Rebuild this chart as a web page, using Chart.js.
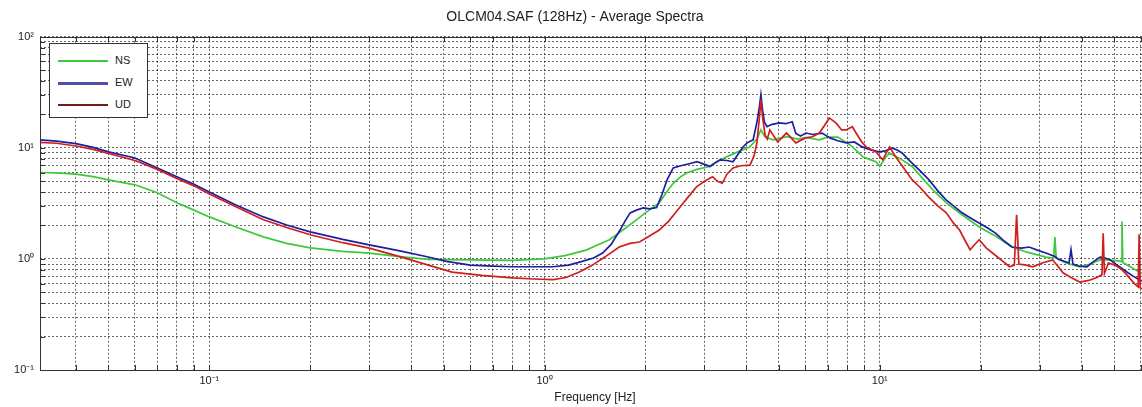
<!DOCTYPE html>
<html>
<head>
<meta charset="utf-8">
<script src="https://cdn.jsdelivr.net/npm/chart.js@4"></script>
<style>
  html, body { margin: 0; padding: 0; background: #fff; overflow: hidden; }
  #wrap { position: relative; width: 1150px; height: 407px; }
  #legend {
    position: absolute; left: 49px; top: 43px; width: 97px; height: 73px;
    border: 1px solid #333; background: #fff;
    font: 11px "Liberation Sans", Arial, sans-serif; color: #222;
  }
  .item { position: absolute; left: 8px; height: 12px; }
  .item span.line { position: absolute; left: 0; width: 50px; }
  .item span.txt { position: absolute; left: 57px; top: -1px; }
</style>
</head>
<body>
<div id="wrap">
  <canvas id="spectra" width="1150" height="407"></canvas>
  <div id="legend"></div>
</div>
<script>
// Average spectra per component (frequency in Hz, amplitude)
const freqNS = [0.03125,0.035,0.04,0.045,0.05,0.06,0.07,0.08,0.09,0.1,0.12,0.145,0.17,0.2,0.25,0.3,0.37,0.45,0.6,0.8,1.0,1.15,1.33,1.45,1.56,1.66,1.76,1.88,2.0,2.1,2.2,2.3,2.42,2.55,2.66,2.85,3.1,3.3,3.49,3.8,4.1,4.3,4.42,4.55,4.8,5.3,5.7,6.0,6.6,7.0,7.5,7.94,8.3,8.9,9.4,9.75,10.0,10.4,10.7,11.5,12.5,13.5,14.5,15.8,17.6,19.8,22.2,24.8,27.5,31.3,33.0,33.3,33.6,36,39.5,42.5,45.4,48.5,52.5,52.8,53.1,57,60,64];
const valNS = [6.0,5.95,5.8,5.5,5.15,4.65,3.94,3.2,2.75,2.39,1.94,1.58,1.38,1.26,1.17,1.13,1.05,0.99,0.98,0.97,1.0,1.07,1.2,1.35,1.49,1.7,1.94,2.25,2.6,2.9,3.2,3.9,4.8,5.5,5.96,6.4,6.8,7.6,8.3,9.3,10.2,12,14.5,12.5,11.8,12.6,12.0,12.4,11.8,12.5,12.5,11.2,10.2,8.3,7.8,7.5,6.8,8.2,9.0,8.0,6.8,5.2,4.1,3.2,2.5,1.94,1.6,1.28,1.15,1.04,1.02,1.57,1.02,0.92,0.85,0.9,0.98,0.98,0.95,2.17,0.93,0.82,0.75,0.72];

const freqEW = [0.03125,0.035,0.04,0.045,0.05,0.06,0.07,0.08,0.09,0.1,0.12,0.145,0.17,0.2,0.25,0.3,0.37,0.45,0.51,0.6,0.7,0.8,0.93,1.06,1.18,1.28,1.4,1.49,1.58,1.68,1.74,1.80,1.88,1.97,2.06,2.16,2.24,2.32,2.42,2.55,2.7,2.85,3.0,3.12,3.24,3.34,3.5,3.65,3.8,3.92,4.02,4.19,4.3,4.38,4.42,4.47,4.53,4.61,4.75,5.01,5.25,5.48,5.62,5.8,6.03,6.3,6.73,7.1,7.5,7.94,8.4,8.86,9.4,9.95,10.4,10.9,11.3,11.66,12.1,12.49,13.2,14.03,14.9,15.77,16.6,17.6,18.6,19.78,21,22.2,23.5,24.8,26.5,27.9,29.5,31.3,33.3,34,35.5,36.7,37.2,37.7,39.5,41.5,43.5,45.4,47,48.7,50.5,52.8,55,57,59.4,62,64];
const valEW = [11.8,11.5,10.9,10.1,9.2,8.1,6.6,5.5,4.7,4.0,3.06,2.39,2.02,1.75,1.5,1.34,1.18,1.04,0.95,0.88,0.86,0.85,0.85,0.85,0.88,0.94,1.02,1.13,1.35,1.82,2.2,2.6,2.75,2.88,2.82,2.9,3.8,5.15,6.6,6.9,7.2,7.5,7.1,6.8,7.4,7.8,7.7,7.5,9.0,10.3,11.1,11.8,17,24,30,22,17,15.5,16.2,16.8,16.5,17.2,13.5,12.8,13.6,13.2,13.6,12.3,11.6,11.1,11.3,10.2,9.6,9.2,9.4,10.0,9.5,9.0,8.0,7.3,6.2,5.15,4.1,3.4,3.0,2.6,2.35,2.11,1.9,1.7,1.45,1.28,1.25,1.28,1.2,1.13,1.05,1.0,0.95,0.92,1.21,0.9,0.86,0.85,0.95,1.04,1.02,0.98,0.9,0.82,0.75,0.7,0.65,0.62,0.6];

const freqUD = [0.03125,0.035,0.04,0.045,0.05,0.06,0.07,0.08,0.09,0.1,0.12,0.145,0.17,0.2,0.25,0.3,0.37,0.45,0.53,0.65,0.8,0.93,1.06,1.16,1.28,1.39,1.52,1.67,1.8,1.92,2.05,2.2,2.35,2.53,2.68,2.84,3.0,3.17,3.28,3.39,3.5,3.65,3.85,4.1,4.22,4.3,4.37,4.42,4.48,4.55,4.62,4.7,4.96,5.27,5.62,6.0,6.3,6.6,6.85,7.07,7.4,7.7,7.94,8.28,8.5,8.8,9.1,9.75,10.2,10.7,11.1,11.5,12.5,13.2,14.0,14.9,15.8,16.6,17.3,18.0,18.6,19.2,19.8,20.8,21.7,23,24.4,25.2,25.6,26.0,27.3,28.6,30.5,32.8,34,35.2,37.2,39.5,42,44.4,46.0,46.4,46.8,48.1,50.3,52.8,55,57.5,59.0,59.4,59.8,62,64];
const valUD = [11.2,11.0,10.4,9.7,8.9,7.7,6.4,5.3,4.55,3.85,2.95,2.25,1.92,1.65,1.4,1.25,1.05,0.88,0.76,0.71,0.675,0.66,0.65,0.68,0.77,0.88,1.05,1.28,1.38,1.42,1.6,1.82,2.2,2.9,3.6,4.45,5.0,5.5,5.0,4.8,5.8,6.6,6.9,7.0,8.5,11.1,18,27,18,13,12,14.5,11.3,13.6,11.1,12.3,12.6,13.6,16,18.6,16.8,14.5,14.5,15.5,13.6,11.5,10.2,9.2,7.8,10.2,8.5,7.3,5.15,4.4,3.6,3.0,2.6,2.1,1.82,1.45,1.21,1.35,1.49,1.25,1.13,0.98,0.85,0.88,2.5,0.9,0.88,0.85,0.92,0.98,0.86,0.75,0.68,0.62,0.64,0.68,0.72,1.7,0.74,0.92,0.88,0.80,0.7,0.6,0.56,1.67,0.55,0.52,0.5];

const seriesNames = ['NS', 'EW', 'UD'];
const seriesColors = ['#3ec83e', '#1e1ea0', '#d01e1e'];
const legendColors = ['#3ec83e', '#5050a8', '#6e1c1c'];

// axis ranges and tick positions
const xRange = [0.03125, 64];
const yRange = [0.1, 100];
const decades = [0.01, 0.1, 1, 10, 100];
const mults = [1, 2, 3, 4, 5, 6, 7, 8, 9];
const xMajorLabels = { '0.1': '10⁻¹', '1': '10⁰', '10': '10¹' };
const yMajorLabels = { '0.1': '10⁻¹', '1': '10⁰', '10': '10¹', '100': '10²' };

function tickValues(range) {
  const out = [];
  decades.forEach(d => mults.forEach(m => {
    const v = +(d * m).toPrecision(6);
    if (v >= range[0] - 1e-9 && v <= range[1] + 1e-9) out.push(v);
  }));
  return out;
}
const xTicks = tickValues(xRange);
const yTicks = tickValues(yRange);

function pairs(fs, vs) {
  return fs.map((f, i) => ({ x: f, y: vs[i] }));
}

const FONT = '"Liberation Sans", Arial, sans-serif';

// axes box + inward tick marks like the original plot
const boxPlugin = {
  id: 'box',
  afterDatasetsDraw(chart) {
    const { ctx, chartArea: a, scales } = chart;
    ctx.save();
    ctx.strokeStyle = '#333';
    ctx.lineWidth = 1;
    ctx.beginPath();
    xTicks.forEach(v => {
      const px = Math.round(scales.x.getPixelForValue(v)) + 0.5;
      ctx.moveTo(px, a.bottom); ctx.lineTo(px, a.bottom - 5);
      ctx.moveTo(px, a.top); ctx.lineTo(px, a.top + 5);
    });
    yTicks.forEach(v => {
      const py = Math.round(scales.y.getPixelForValue(v)) + 0.5;
      ctx.moveTo(a.left, py); ctx.lineTo(a.left + 5, py);
    });
    ctx.stroke();
    ctx.strokeRect(Math.round(a.left) + 0.5, Math.round(a.top) + 0.5,
      Math.round(a.right - a.left), Math.round(a.bottom - a.top));
    ctx.restore();
  }
};

const datasets = [
  { data: pairs(freqNS, valNS) },
  { data: pairs(freqEW, valEW) },
  { data: pairs(freqUD, valUD) }
].map((d, i) => ({
  label: seriesNames[i],
  data: d.data,
  borderColor: seriesColors[i],
  borderWidth: 1.7,
  pointRadius: 0,
  tension: 0,
  order: 3 - i
}));

new Chart(document.getElementById('spectra'), {
  type: 'line',
  data: { datasets: datasets },
  options: {
    responsive: false,
    devicePixelRatio: 1,
    animation: false,
    layout: { padding: 0 },
    plugins: {
      legend: { display: false },
      tooltip: { enabled: false },
      title: {
        display: true,
        text: 'OLCM04.SAF (128Hz) - Average Spectra',
        color: '#222',
        font: { family: FONT, size: 14, weight: 'normal' },
        padding: { top: 9, bottom: 11 }
      }
    },
    scales: {
      x: {
        type: 'logarithmic',
        min: xRange[0],
        max: xRange[1],
        afterBuildTicks: s => { s.ticks = xTicks.map(v => ({ value: v })); },
        afterFit: s => { s.height = 37; },
        ticks: {
          autoSkip: false, maxRotation: 0, padding: 4,
          color: '#222', font: { family: FONT, size: 11 },
          callback: v => xMajorLabels[String(+v.toPrecision(6))] || ''
        },
        grid: { color: 'rgba(0,0,0,0.6)', lineWidth: 1, drawTicks: false },
        border: { display: false, dash: [2, 2] },
        title: {
          display: true, text: 'Frequency [Hz]', color: '#222',
          font: { family: FONT, size: 12 }, padding: { top: 0, bottom: 2 }
        }
      },
      y: {
        type: 'logarithmic',
        min: yRange[0],
        max: yRange[1],
        afterBuildTicks: s => { s.ticks = yTicks.map(v => ({ value: v })); },
        afterFit: s => { s.width = 40; },
        ticks: {
          autoSkip: false, padding: 6,
          color: '#222', font: { family: FONT, size: 11 },
          callback: v => yMajorLabels[String(+v.toPrecision(6))] || ''
        },
        grid: { color: 'rgba(0,0,0,0.6)', lineWidth: 1, drawTicks: false },
        border: { display: false, dash: [2, 2] }
      }
    }
  },
  plugins: [boxPlugin]
});

// legend box drawn over the plot (top-left, as in the original)
const legend = document.getElementById('legend');
seriesNames.forEach((name, i) => {
  const row = document.createElement('div');
  row.className = 'item';
  row.style.top = (11 + i * 22) + 'px';
  const w = i === 1 ? 3 : 2;
  row.innerHTML = '<span class="line" style="top:' + (6 - w / 2) + 'px;height:' + w +
    'px;background:' + legendColors[i] + '"></span><span class="txt">' + name + '</span>';
  legend.appendChild(row);
});
</script>
</body>
</html>
